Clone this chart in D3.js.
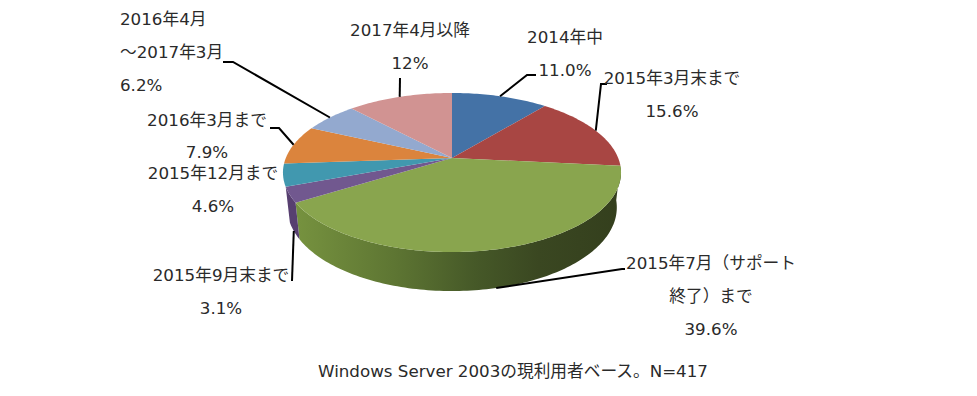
<!DOCTYPE html>
<html>
<head>
<meta charset="utf-8">
<script src="https://cdn.jsdelivr.net/npm/d3@7"></script>
<style>
  html, body { margin: 0; background: #fff; }
  text { font-family: "DejaVu Sans", "Noto Sans CJK JP", sans-serif; font-size: 16.7px; fill: #2a2a2a; }
</style>
</head>
<body>
<svg id="chart" width="977" height="396"></svg>
<script>
// slices, clockwise from 12 o'clock
const categories = ['2014年中', '2015年3月末まで', '2015年7月(サポート終了)まで', '2015年9月末まで',
  '2015年12月まで', '2016年3月まで', '2016年4月~2017年3月', '2017年4月以降'];
const shares = [11.0, 15.6, 39.6, 3.1, 4.6, 7.9, 6.2, 12];
const shareLabels = ['11.0%', '15.6%', '39.6%', '3.1%', '4.6%', '7.9%', '6.2%', '12%'];
const topColors = ['#4472a6', '#a84643', '#89a54e', '#71588f', '#4198af', '#db843d', '#93a9cf', '#d19392'];
const sideColors = ['#35587f', '#823533', null, '#573f70', '#307586', '#a96228', '#7084a3', '#a27170'];

// label layout: lines of text with anchor, x and centre y
const labelLayout = [
  [['2014年中', 'middle', 565, 37], ['11.0%', 'middle', 565, 70]],
  [['2015年3月末まで', 'middle', 672, 78], ['15.6%', 'middle', 672, 111]],
  [['2015年7月（サポート', 'middle', 711, 263], ['終了）まで', 'middle', 711, 296], ['39.6%', 'middle', 711, 329]],
  [['2015年9月末まで', 'middle', 221, 275], ['3.1%', 'middle', 221, 308]],
  [['2015年12月まで', 'middle', 213, 173], ['4.6%', 'middle', 213, 206]],
  [['2016年3月まで', 'middle', 207, 120], ['7.9%', 'middle', 207, 152]],
  [['2016年4月', 'start', 120, 19], ['～2017年3月', 'start', 120, 52], ['6.2%', 'start', 120, 85]],
  [['2017年4月以降', 'middle', 410, 30], ['12%', 'middle', 410, 63]]
];
const footnote = 'Windows Server 2003の現利用者ベース。N=417';

// leader elbows per slice, null where the label has no leader
const leaderElbows = [
  [[527, 75], [536, 75]],
  [[601, 84], [607, 84]],
  [[622, 269], [625, 269]],
  [[292, 281]],
  null,
  [[279, 128], [270, 128]],
  [[233, 62], [223, 62]],
  [[400, 78]]
];

// projection of the tilted disc: the apex sits above the ellipse middle
const cx = 452, cy = 158, A = 166.2, B = 76.9, k = 0.1824;
const depthBase = 34, depthFront = 5, bottomScale = 0.975;

function topPoint(theta) {
  const u = Math.sin(theta), v = -Math.cos(theta), w = 1 - k * v;
  return [cx + A * u / w, cy + B * v / w];
}
function bottomPoint(theta) {
  const v = -Math.cos(theta), p = topPoint(theta);
  return [cx + (p[0] - cx) * bottomScale, p[1] + depthBase + depthFront * v];
}

const svg = d3.select('#chart');
const line = d3.line();

const arcs = d3.pie().sort(null).value(d => d)(shares);

function rim(a, fn) {
  const n = Math.max(2, Math.ceil((a.endAngle - a.startAngle) / 0.02));
  return d3.range(n + 1).map(i => fn(a.startAngle + (a.endAngle - a.startAngle) * i / n));
}

// green side wall shading
const grad = svg.append('defs').append('linearGradient')
  .attr('id', 'greenSide')
  .attr('gradientUnits', 'userSpaceOnUse')
  .attr('x1', 296).attr('x2', 620).attr('y1', 0).attr('y2', 0);
[[0, '#76923f'], [0.3, '#5e7633'], [0.55, '#465928'], [0.75, '#3a4721'], [1, '#343f1d']].forEach(s => {
  grad.append('stop').attr('offset', s[0]).attr('stop-color', s[1]);
});

// side walls, only the ones facing the viewer
arcs.forEach((a, i) => {
  if (Math.cos((a.startAngle + a.endAngle) / 2) > -0.3) return;
  const pts = rim(a, topPoint).concat(rim(a, bottomPoint).reverse());
  svg.append('path')
    .attr('d', line(pts) + 'Z')
    .attr('fill', i === 2 ? 'url(#greenSide)' : sideColors[i]);
});

// top faces
arcs.forEach((a, i) => {
  const pts = [[cx, cy]].concat(rim(a, topPoint));
  svg.append('path')
    .attr('d', line(pts) + 'Z')
    .attr('fill', topColors[i]);
});

// leader lines start on the rim at each slice's middle
arcs.forEach((a, i) => {
  if (!leaderElbows[i]) return;
  const mid = (a.startAngle + a.endAngle) / 2;
  const start = (i === 2 || i === 3) ? bottomPoint(mid) : topPoint(mid);
  svg.append('path')
    .attr('d', line([start].concat(leaderElbows[i])))
    .attr('fill', 'none')
    .attr('stroke', '#000')
    .attr('stroke-width', 2);
});

labelLayout.forEach(lines => {
  lines.forEach(l => {
    svg.append('text')
      .attr('x', l[2]).attr('y', l[3])
      .attr('text-anchor', l[1])
      .attr('dominant-baseline', 'central')
      .text(l[0]);
  });
});

svg.append('text')
  .attr('x', 513).attr('y', 371)
  .attr('text-anchor', 'middle')
  .attr('dominant-baseline', 'central')
  .text(footnote);
</script>
</body>
</html>
